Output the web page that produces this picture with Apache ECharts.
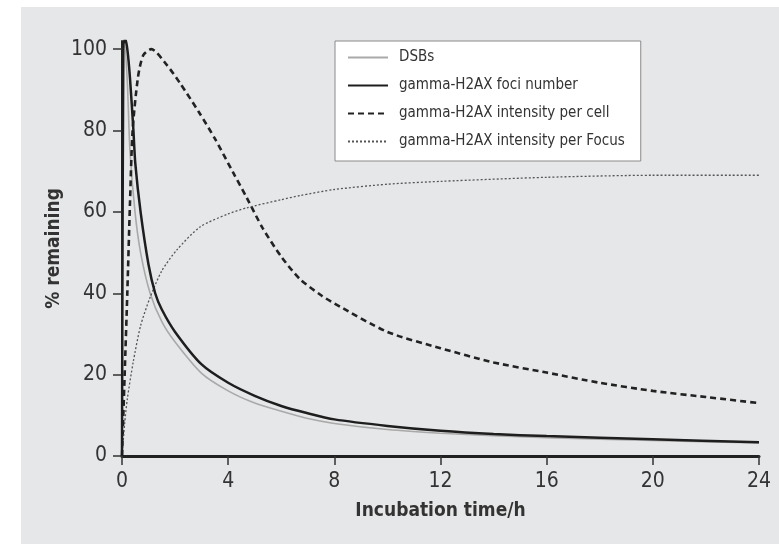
<!DOCTYPE html>
<html>
<head>
<meta charset="utf-8">
<script src="https://cdn.jsdelivr.net/npm/echarts@6/dist/echarts.min.js"></script>
<style>
  html, body { margin: 0; padding: 0; background: #fff; }
</style>
</head>
<body>
<div id="main" style="width: 779px;height:544px;"></div>
<script type="text/javascript">
// values (time in h, % remaining)
var dsbTime   = [0, 0.05, 0.1, 0.2, 0.3, 0.49, 0.7, 1.06, 1.5, 2, 3, 4, 5, 6, 7, 8, 10, 12, 14, 16, 20, 24];
var dsbValue  = [0, 100, 101, 92, 75, 60, 50, 40, 33, 28, 20.3, 16, 13, 11, 9.2, 8, 6.5, 5.6, 5, 4.5, 3.8, 3.2];

var fociTime  = [0, 0.05, 0.12, 0.2, 0.3, 0.43, 0.5, 0.7, 1, 1.25, 1.5, 2, 3, 4, 5, 6, 7, 8, 10, 12, 14, 16, 20, 24];
var fociValue = [0, 101, 102.5, 100, 93, 80, 72, 60, 47, 40, 36, 30.5, 22.5, 18, 14.8, 12.3, 10.5, 9, 7.4, 6.2, 5.4, 4.9, 4.1, 3.4];

var cellTime  = [0, 0.1, 0.2, 0.3, 0.4, 0.6, 0.8, 1.1, 1.7, 2.2, 2.9, 3.5, 4.2, 4.7, 5.3, 6, 6.7, 7.5, 8, 10, 12, 14, 16, 18, 20, 22, 24];
var cellValue = [0, 20, 40, 62, 80, 93, 98.5, 100, 96, 91.5, 84.5, 78, 69.5, 63.5, 56, 49, 43.5, 39.5, 37.5, 30.5, 26.5, 23, 20.5, 18, 16, 14.5, 13];

var focusTime  = [0, 0.1, 0.2, 0.42, 0.7, 1.06, 1.5, 2.06, 2.94, 4, 4.7, 6, 6.7, 8, 10, 12, 16, 20, 24];
var focusValue = [0, 8, 14, 23, 32, 39, 45.5, 50.6, 56.3, 59.5, 61, 63, 64, 65.5, 66.8, 67.5, 68.5, 69, 69];

var yTicks = [0, 20, 40, 60, 80, 100];
var names = ['DSBs', 'gamma-H2AX foci number', 'gamma-H2AX intensity per cell', 'gamma-H2AX intensity per Focus'];

function pairs(t, v) {
    var out = [];
    for (var i = 0; i < t.length; i++) out.push([t[i], v[i]]);
    return out;
}

var font = '"Liberation Sans Narrow", "DejaVu Sans Condensed", "Liberation Sans", sans-serif';

var myChart = echarts.init(document.getElementById('main'));
myChart.setOption({
    animation: false,
    graphic: [{
        type: 'rect',
        left: 21, top: 7, z: -10,
        shape: { width: 758, height: 537 },
        style: { fill: '#e6e7e9' }
    }],
    grid: { left: 122, right: 20, top: 41, bottom: 88 },
    legend: {
        orient: 'vertical',
        left: 335, top: 41,
        data: names,
        backgroundColor: '#fff',
        borderColor: '#8a8a8a',
        borderWidth: 1,
        padding: [9, 16, 12, 12],
        itemWidth: 40,
        itemHeight: 14,
        itemGap: 13,
        itemStyle: { opacity: 0 },
        textStyle: { fontFamily: font, fontSize: 15, color: '#333', padding: [0, 0, 0, 6] }
    },
    xAxis: {
        type: 'value',
        min: 0, max: 24, interval: 4,
        name: 'Incubation time/h',
        nameLocation: 'middle',
        nameGap: 46,
        nameMoveOverlap: false,
        nameTextStyle: { fontFamily: font, fontSize: 19, fontWeight: 'bold', color: '#333' },
        axisLine: { onZero: false, lineStyle: { color: '#222', width: 3 } },
        axisTick: { length: 9, lineStyle: { color: '#333', width: 1.5 } },
        axisLabel: { margin: 15, fontFamily: font, fontSize: 21, color: '#333' },
        splitLine: { show: false }
    },
    yAxis: {
        type: 'value',
        min: 0, max: 102,
        name: '% remaining',
        nameLocation: 'middle',
        nameGap: 58,
        nameMoveOverlap: false,
        nameTextStyle: { fontFamily: font, fontSize: 19, fontWeight: 'bold', color: '#333' },
        axisLine: { show: true, lineStyle: { color: '#222', width: 2 } },
        axisTick: { show: true, length: 9, customValues: yTicks, lineStyle: { color: '#333', width: 1.5 } },
        axisLabel: { margin: 15, fontFamily: font, fontSize: 21, color: '#333', customValues: yTicks },
        splitLine: { show: false }
    },
    series: [
        {
            name: names[0], type: 'line', symbol: 'none', z: 2,
            smooth: 0.25,
            lineStyle: { color: '#a9a9a9', width: 1.6 },
            itemStyle: { color: '#a9a9a9' },
            data: pairs(dsbTime, dsbValue)
        },
        {
            name: names[1], type: 'line', symbol: 'none', z: 4,
            smooth: 0.25,
            lineStyle: { color: '#1e1e1e', width: 2.5 },
            itemStyle: { color: '#1e1e1e' },
            data: pairs(fociTime, fociValue)
        },
        {
            name: names[2], type: 'line', symbol: 'none', z: 3,
            smooth: 0.25,
            lineStyle: { color: '#222', width: 2.6, type: [6, 4] },
            itemStyle: { color: '#222' },
            data: pairs(cellTime, cellValue)
        },
        {
            name: names[3], type: 'line', symbol: 'none', z: 3,
            smooth: 0.25,
            lineStyle: { color: '#555', width: 1.3, type: [2, 2] },
            itemStyle: { color: '#555' },
            data: pairs(focusTime, focusValue)
        }
    ]
});
</script>
</body>
</html>
